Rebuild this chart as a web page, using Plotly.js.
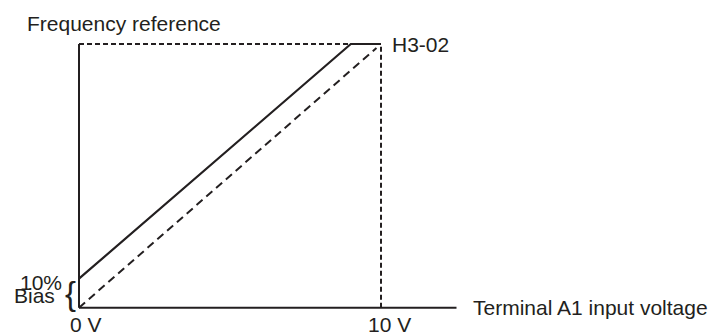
<!DOCTYPE html>
<html>
<head>
<meta charset="utf-8">
<script src="https://cdn.plot.ly/plotly-3.0.1.min.js"></script>
<style>html,body{margin:0;padding:0;background:#fff;}#chart{width:715px;height:335px;}</style>
</head>
<body>
<div id="chart"></div>
<script>
// ---- data (volts on x, percent of maximum frequency on y) ----
const voltLimits = [0, 10];          // 0 V and 10 V
const axisExtentVolts = 12.5;        // horizontal axis line runs past 10 V
const maxPercent = 100;              // H3-02 level
const biasPercent = 11;              // 10% bias level as drawn
const biasedInput = [0, 9, 10];      // solid line input voltage
const biasedOutput = [11, 100, 100]; // solid line frequency reference
const unbiasedInput = [0, 9.85];     // dashed reference (no bias)
const unbiasedOutput = [0, 98.5];
const tickLabels = ["0 V", "10 V"];
const labelTexts = {
  yTitle: "Frequency reference",
  xTitle: "Terminal A1 input voltage",
  maxLabel: "H3-02",
  bias: "Bias",
  biasPct: "10%"
};

const ink = "#231f20";
const fontFam = "Liberation Sans, Arial, Helvetica, sans-serif";
const fs = 21;

const traces = [
  // y axis
  {x: [voltLimits[0], voltLimits[0]], y: [0, maxPercent], mode: "lines",
   line: {color: ink, width: 2}},
  // x axis
  {x: [voltLimits[0], axisExtentVolts], y: [0, 0], mode: "lines",
   line: {color: ink, width: 2}},
  // top dashed guide
  {x: [voltLimits[0], biasedInput[1]], y: [maxPercent, maxPercent], mode: "lines",
   line: {color: ink, width: 2, dash: "5px,3px"}},
  // vertical dashed at 10 V
  {x: [voltLimits[1], voltLimits[1]], y: [0, maxPercent], mode: "lines",
   line: {color: ink, width: 2, dash: "5px,3px"}},
  // dashed no-bias line
  {x: unbiasedInput, y: unbiasedOutput, mode: "lines",
   line: {color: ink, width: 2, dash: "8px,5px"}},
  // solid biased line
  {x: biasedInput, y: biasedOutput, mode: "lines",
   line: {color: ink, width: 2.2}}
];

const f = (s) => ({family: fontFam, size: s, color: ink});

const annotations = [
  {x: voltLimits[0], y: maxPercent, xref: "x", yref: "y", text: labelTexts.yTitle,
   showarrow: false, xanchor: "left", yanchor: "middle", xshift: -54, yshift: 21, font: f(fs)},
  {x: voltLimits[1], y: maxPercent, xref: "x", yref: "y", text: labelTexts.maxLabel,
   showarrow: false, xanchor: "left", yanchor: "middle", xshift: 9, yshift: 0, font: f(fs)},
  {x: axisExtentVolts, y: 0, xref: "x", yref: "y", text: labelTexts.xTitle,
   showarrow: false, xanchor: "left", yanchor: "middle", xshift: 14, yshift: 0, font: f(fs)},
  {x: voltLimits[0], y: 0, xref: "x", yref: "y", text: tickLabels[0],
   showarrow: false, xanchor: "center", yanchor: "middle", xshift: 7, yshift: -17, font: f(fs)},
  {x: voltLimits[1], y: 0, xref: "x", yref: "y", text: tickLabels[1],
   showarrow: false, xanchor: "center", yanchor: "middle", xshift: 8, yshift: -17, font: f(fs)},
  {x: voltLimits[0], y: biasPercent, xref: "x", yref: "y", text: labelTexts.biasPct,
   showarrow: false, xanchor: "right", yanchor: "middle", xshift: -15, yshift: -4, font: f(fs)},
  {x: voltLimits[0], y: biasPercent / 2, xref: "x", yref: "y", text: labelTexts.bias,
   showarrow: false, xanchor: "right", yanchor: "middle", xshift: -22, yshift: -2, font: f(fs)},
  {x: voltLimits[0], y: biasPercent / 2, xref: "x", yref: "y", text: "{",
   showarrow: false, xanchor: "center", yanchor: "middle", xshift: -9, yshift: 0,
   font: {family: fontFam, size: 33, color: ink}}
];

// pixel mapping: x 0 V -> 79 px, 10 V -> 381 px; y 0% -> 307.7 px, 100% -> 44 px
const pxPerVolt = 30.2, pxPerPct = 2.637;
const xr = [-79 / pxPerVolt, -79 / pxPerVolt + 715 / pxPerVolt];
const yr = [-(335 - 307.7) / pxPerPct, 100 + 44 / pxPerPct];

const layout = {
  width: 715, height: 335,
  margin: {l: 0, r: 0, t: 0, b: 0, pad: 0},
  paper_bgcolor: "#fff", plot_bgcolor: "#fff",
  showlegend: false,
  xaxis: {range: xr, visible: false, fixedrange: true},
  yaxis: {range: yr, visible: false, fixedrange: true},
  annotations: annotations
};

Plotly.newPlot("chart", traces, layout, {staticPlot: true, displayModeBar: false});
</script>
</body>
</html>
